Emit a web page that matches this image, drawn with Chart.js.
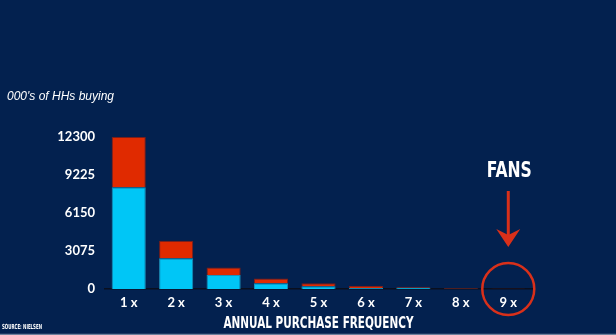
<!DOCTYPE html>
<html>
<head>
<meta charset="utf-8">
<script src="https://cdn.jsdelivr.net/npm/chart.js@4/dist/chart.umd.min.js"></script>
<style>
  html, body { margin: 0; padding: 0; background: #03214f; }
  canvas { display: block; }
</style>
</head>
<body>
<canvas id="koopChart" width="616" height="335"></canvas>
<script>
// aankoopfrequentie per jaar, huishoudens in duizenden
const frequenties = ["1 x", "2 x", "3 x", "4 x", "5 x", "6 x", "7 x", "8 x", "9 x"];
const basisKopers = [8230, 2480, 1130, 460, 220, 80, 110, 20, 10];
const extraKopers = [4070, 1430, 600, 380, 240, 190, 70, 60, 20];
const yTicks = [0, 3075, 6150, 9225, 12300];

const achtergrond = "#03214f";
const blauw = "#00c6f6";
const rood = "#e02a00";

function tekstPassend(ctx, tekst, x, y, breedte) {
  const w = ctx.measureText(tekst).width;
  ctx.save();
  ctx.translate(x, y);
  if (w > breedte) ctx.scale(breedte / w, 1);
  ctx.fillText(tekst, 0, 0);
  ctx.restore();
}

const decorPlugin = {
  id: "decor",
  beforeDraw(chart) {
    const ctx = chart.ctx;
    ctx.save();
    ctx.fillStyle = achtergrond;
    ctx.fillRect(0, 0, chart.width, chart.height);
    ctx.restore();
  },
  afterDraw(chart) {
    const ctx = chart.ctx;
    const area = chart.chartArea;
    const xs = chart.scales.x;
    const ys = chart.scales.y;
    ctx.save();
    ctx.fillStyle = "#ffffff";

    // eenheid linksboven
    ctx.font = "italic 12px 'Liberation Sans', Arial, sans-serif";
    ctx.textAlign = "left";
    ctx.textBaseline = "alphabetic";
    ctx.fillText("000's of HHs buying", 7, 100);

    // astitel
    ctx.font = "bold 16px 'Liberation Sans Narrow', 'DejaVu Sans Condensed', sans-serif";
    ctx.textAlign = "center";
    ctx.textBaseline = "middle";
    tekstPassend(ctx, "ANNUAL PURCHASE FREQUENCY", (area.left + area.right) / 2, 324, 190);

    // bron
    ctx.font = "bold 7px 'Liberation Sans Narrow', 'DejaVu Sans Condensed', sans-serif";
    ctx.textAlign = "left";
    tekstPassend(ctx, "SOURCE: NIELSEN", 2, 327, 40);

    // fans: cirkel rond de laatste categorie met pijl
    const cx = xs.getPixelForValue(frequenties.length - 1);
    const cy = ys.getPixelForValue(0);
    ctx.strokeStyle = "#d9301a";
    ctx.lineWidth = 2.5;
    ctx.beginPath();
    ctx.arc(cx, cy, 26, 0, Math.PI * 2);
    ctx.stroke();

    ctx.lineWidth = 3;
    ctx.beginPath();
    ctx.moveTo(cx, 191);
    ctx.lineTo(cx, 236);
    ctx.stroke();
    ctx.fillStyle = "#d9301a";
    ctx.beginPath();
    ctx.moveTo(cx - 12, 229);
    ctx.lineTo(cx, 247);
    ctx.lineTo(cx + 12, 229);
    ctx.lineTo(cx, 235);
    ctx.closePath();
    ctx.fill();

    ctx.fillStyle = "#ffffff";
    ctx.font = "bold 21px 'Liberation Sans Narrow', 'DejaVu Sans Condensed', sans-serif";
    ctx.textAlign = "center";
    ctx.textBaseline = "middle";
    tekstPassend(ctx, "FANS", cx + 1, 172, 45);

    // lichte rand onderaan
    ctx.strokeStyle = "#6f819c";
    ctx.lineWidth = 1.5;
    ctx.beginPath();
    ctx.moveTo(0, 334.5);
    ctx.lineTo(chart.width, 334.5);
    ctx.stroke();
    ctx.restore();
  },
};

new Chart(document.getElementById("koopChart"), {
  type: "bar",
  data: {
    labels: frequenties,
    datasets: [
      {
        label: "basis",
        data: basisKopers,
        backgroundColor: blauw,
        borderColor: "#1c8fb8",
        borderWidth: 1,
        barPercentage: 0.72,
        categoryPercentage: 1,
      },
      {
        label: "extra",
        data: extraKopers,
        backgroundColor: rood,
        borderColor: "#7a1e1a",
        borderWidth: 1,
        barPercentage: 0.72,
        categoryPercentage: 1,
      },
    ],
  },
  options: {
    responsive: false,
    animation: false,
    layout: { padding: { top: 137, right: 84, left: 0, bottom: 0 } },
    plugins: { legend: { display: false }, tooltip: { enabled: false } },
    scales: {
      x: {
        stacked: true,
        grid: { display: false, drawTicks: false },
        border: { display: true, color: "#0a0f1e", width: 1.5 },
        ticks: {
          color: "#ffffff",
          padding: 6,
          font: { family: "Lato, 'Liberation Sans', sans-serif", weight: "bold", size: 13 },
        },
        afterFit(scale) { scale.height = 46; },
      },
      y: {
        stacked: true,
        min: 0,
        max: 12300,
        grid: { display: false, drawTicks: false },
        border: { display: false },
        afterBuildTicks(scale) { scale.ticks = yTicks.map((v) => ({ value: v })); },
        ticks: {
          color: "#ffffff",
          padding: 10,
          callback: (v) => String(v),
          font: { family: "Lato, 'Liberation Sans', sans-serif", weight: "bold", size: 13 },
        },
        afterFit(scale) { scale.width = 105; },
      },
    },
  },
  plugins: [decorPlugin],
});
</script>
</body>
</html>
